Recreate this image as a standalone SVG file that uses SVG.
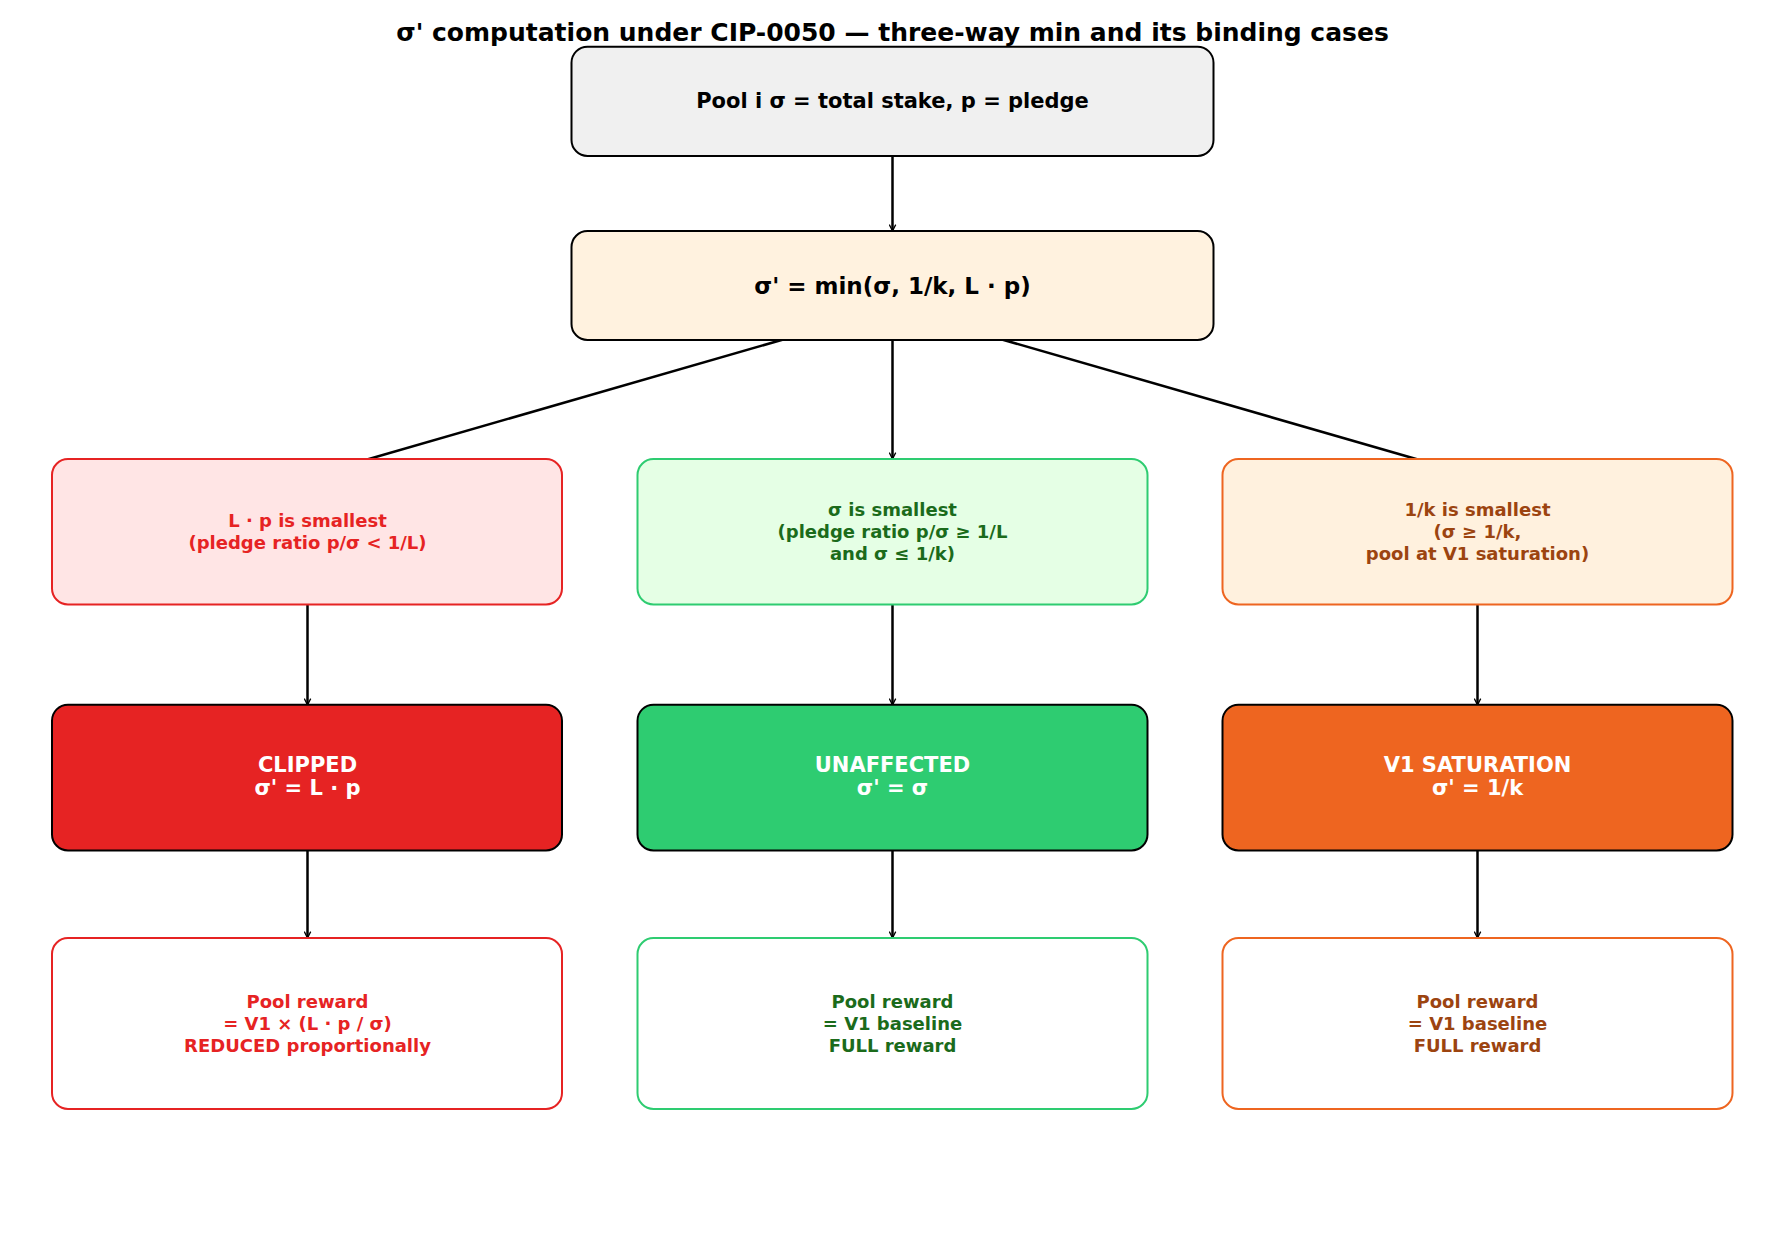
<svg xmlns="http://www.w3.org/2000/svg" width="1785" height="1260" viewBox="0 0 1785 1260">
<style>
text{font-family:"DejaVu Sans",sans-serif;font-weight:bold;text-anchor:middle;dominant-baseline:central}
.c{stroke:#000;stroke-width:2.5;fill:none;marker-end:url(#a)}
.r{fill:#E62323}.g{fill:#1B6B1B}.o{fill:#9C4410}.w{fill:#fff}
</style>
<defs><marker id="a" viewBox="0 0 10 10" refX="9" refY="5" markerWidth="8" markerHeight="8" orient="auto" markerUnits="userSpaceOnUse"><path d="M1,1 L9,5 L1,9" fill="none" stroke="#000" stroke-width="1.6"/></marker></defs>
<rect width="1785" height="1260" fill="#fff"/>
<text x="892.5" y="32" font-size="25" fill="#000">σ' computation under CIP-0050 — three-way min and its binding cases</text>
<g id="connectors">
<line class="c" x1="892.5" y1="154" x2="892.5" y2="231"/>
<line class="c" x1="816" y1="330" x2="355" y2="463"/>
<line class="c" x1="892.5" y1="332" x2="892.5" y2="459"/>
<line class="c" x1="969" y1="330" x2="1430" y2="463"/>
<line class="c" x1="307.5" y1="602" x2="307.5" y2="705"/>
<line class="c" x1="892.5" y1="602" x2="892.5" y2="705"/>
<line class="c" x1="1477.5" y1="602" x2="1477.5" y2="705"/>
<line class="c" x1="307.5" y1="848" x2="307.5" y2="938"/>
<line class="c" x1="892.5" y1="848" x2="892.5" y2="938"/>
<line class="c" x1="1477.5" y1="848" x2="1477.5" y2="938"/>
</g>
<g id="pool"><rect x="571.5" y="46.7" width="642" height="109.3" rx="16" fill="#F0F0F0" stroke="#000" stroke-width="2"/><text x="892.5" y="101" font-size="21">Pool i   σ = total stake,   p = pledge</text></g>
<g id="min"><rect x="571.5" y="231" width="642" height="109" rx="16" fill="#FFF2DF" stroke="#000" stroke-width="2"/><text x="892.5" y="285.5" font-size="23">σ' = min(σ,   1/k,   L · p)</text></g>
<g id="caseL"><rect x="52" y="459" width="510" height="145.5" rx="16" fill="#FFE5E5" stroke="#E62323" stroke-width="2"/><text class="r" x="307.5" y="520" font-size="18">L · p is smallest</text><text class="r" x="307.5" y="542" font-size="18">(pledge ratio p/σ &lt; 1/L)</text></g>
<g id="caseS"><rect x="637.5" y="459" width="510" height="145.5" rx="16" fill="#E5FFE5" stroke="#2ECC71" stroke-width="2"/><text class="g" x="892.5" y="509" font-size="18">σ is smallest</text><text class="g" x="892.5" y="531" font-size="18">(pledge ratio p/σ ≥ 1/L</text><text class="g" x="892.5" y="553" font-size="18">and σ ≤ 1/k)</text></g>
<g id="caseK"><rect x="1222.5" y="459" width="510" height="145.5" rx="16" fill="#FFF1DE" stroke="#EE6520" stroke-width="2"/><text class="o" x="1477.5" y="509" font-size="18">1/k is smallest</text><text class="o" x="1477.5" y="531" font-size="18">(σ ≥ 1/k,</text><text class="o" x="1477.5" y="553" font-size="18">pool at V1 saturation)</text></g>
<g id="clipped"><rect x="52" y="704.7" width="510" height="145.7" rx="16" fill="#E62323" stroke="#000" stroke-width="2"/><text class="w" x="307.5" y="765" font-size="21">CLIPPED</text><text class="w" x="307.5" y="788" font-size="21">σ' = L · p</text></g>
<g id="unaffected"><rect x="637.5" y="704.7" width="510" height="145.7" rx="16" fill="#2ECC71" stroke="#000" stroke-width="2"/><text class="w" x="892.5" y="765" font-size="21">UNAFFECTED</text><text class="w" x="892.5" y="788" font-size="21">σ' = σ</text></g>
<g id="v1sat"><rect x="1222.5" y="704.7" width="510" height="145.7" rx="16" fill="#EE6520" stroke="#000" stroke-width="2"/><text class="w" x="1477.5" y="765" font-size="21">V1 SATURATION</text><text class="w" x="1477.5" y="788" font-size="21">σ' = 1/k</text></g>
<g id="rewardL"><rect x="52" y="938" width="510" height="171" rx="16" fill="#fff" stroke="#E62323" stroke-width="2"/><text class="r" x="307.5" y="1001" font-size="18">Pool reward</text><text class="r" x="307.5" y="1023" font-size="18">= V1 × (L · p / σ)</text><text class="r" x="307.5" y="1045" font-size="18">REDUCED proportionally</text></g>
<g id="rewardS"><rect x="637.5" y="938" width="510" height="171" rx="16" fill="#fff" stroke="#2ECC71" stroke-width="2"/><text class="g" x="892.5" y="1001" font-size="18">Pool reward</text><text class="g" x="892.5" y="1023" font-size="18">= V1 baseline</text><text class="g" x="892.5" y="1045" font-size="18">FULL reward</text></g>
<g id="rewardK"><rect x="1222.5" y="938" width="510" height="171" rx="16" fill="#fff" stroke="#EE6520" stroke-width="2"/><text class="o" x="1477.5" y="1001" font-size="18">Pool reward</text><text class="o" x="1477.5" y="1023" font-size="18">= V1 baseline</text><text class="o" x="1477.5" y="1045" font-size="18">FULL reward</text></g>
</svg>
